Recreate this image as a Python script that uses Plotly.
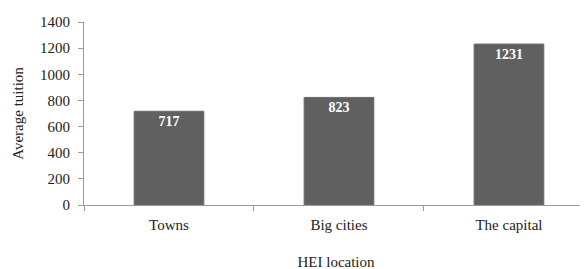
import plotly.graph_objects as go

categories = ["Towns", "Big cities", "The capital"]
values = [717, 823, 1231]
y_ticks = [0, 200, 400, 600, 800, 1000, 1200, 1400]

font_family = "Liberation Serif, Times New Roman, serif"

fig = go.Figure(go.Bar(
    x=categories,
    y=values,
    marker=dict(color="#606060", line=dict(color="#6a6a6a", width=1)),
    text=[str(v) for v in values],
    textposition="inside",
    insidetextanchor="end",
    textfont=dict(family=font_family, size=14, color="white"),
    texttemplate="<b>%{text}</b>",
    cliponaxis=False,
))

fig.update_layout(
    width=580, height=269,
    margin=dict(l=76, r=0, t=14, b=72),
    paper_bgcolor="white", plot_bgcolor="white",
    bargap=0.59,
    showlegend=False,
    font=dict(family=font_family, size=15, color="#222"),
    xaxis=dict(
        range=[-0.5, 2.465],
        tickson="boundaries",
        ticks="outside", ticklen=5, tickcolor="#9a9a9a",
        showline=True, linecolor="#9a9a9a", linewidth=1,
        showgrid=False,
        tickfont=dict(size=15),
        ticklabelstandoff=6,
        title=dict(text="HEI location", font=dict(size=15), standoff=24),
    ),
    yaxis=dict(
        range=[0, 1400],
        tickvals=y_ticks,
        ticks="outside", ticklen=5, tickcolor="#9a9a9a",
        showline=True, linecolor="#9a9a9a", linewidth=1,
        showgrid=False, zeroline=False,
        tickfont=dict(size=15),
        ticklabelstandoff=5,
        title=dict(text="Average tuition", font=dict(size=15), standoff=12),
    ),
)

fig.write_html("out.html")
